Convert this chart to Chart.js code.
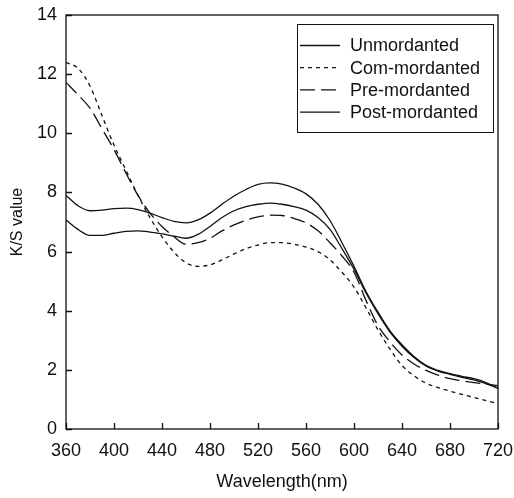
<!DOCTYPE html>
<html>
<head>
<meta charset="utf-8">
<script src="https://cdn.jsdelivr.net/npm/chart.js@4.4.0/dist/chart.umd.min.js"></script>
<style>
    html, body { margin: 0; padding: 0; background: #fff; }
</style>
</head>
<body>
<canvas id="ks-chart" width="514" height="498"></canvas>
<script>
const wavelengths = [360, 370, 380, 390, 400, 410, 420, 430, 440, 450, 460, 470, 480, 490, 500, 510, 520, 530, 540,
    550, 560, 570, 580, 590, 600, 610, 620, 630, 640, 650, 660, 670, 680, 690, 700, 710, 720];

const unmordanted = [7.07, 6.75, 6.55, 6.55, 6.62, 6.68, 6.7, 6.66, 6.6, 6.52, 6.45, 6.58, 6.85, 7.15, 7.38, 7.52, 7.6, 7.64, 7.6,
    7.52, 7.4, 7.15, 6.75, 6.1, 5.4, 4.6, 3.9, 3.28, 2.8, 2.42, 2.13, 1.96, 1.85, 1.75, 1.66, 1.53, 1.38];
const comMordanted = [12.4, 12.2, 11.6, 10.6, 9.6, 8.75, 7.9, 7.15, 6.5, 5.98, 5.62, 5.5, 5.55, 5.72, 5.92, 6.1, 6.22, 6.3, 6.3,
    6.25, 6.15, 6.0, 5.72, 5.3, 4.8, 4.1, 3.35, 2.7, 2.15, 1.8, 1.55, 1.4, 1.28, 1.17, 1.07, 0.96, 0.86];
const preMordanted = [11.72, 11.3, 10.85, 10.15, 9.45, 8.65, 7.9, 7.3, 6.85, 6.5, 6.25, 6.3, 6.45, 6.7, 6.9, 7.06, 7.17, 7.23, 7.22,
    7.12, 6.97, 6.7, 6.3, 5.85, 5.3, 4.35, 3.5, 2.95, 2.5, 2.2, 1.98, 1.82, 1.7, 1.63, 1.57, 1.52, 1.47];
const postMordanted = [7.9, 7.55, 7.38, 7.4, 7.45, 7.47, 7.42, 7.3, 7.15, 7.02, 6.97, 7.07, 7.3, 7.6, 7.88, 8.1, 8.27, 8.32, 8.28,
    8.15, 7.95, 7.6, 7.05, 6.3, 5.5, 4.65, 3.95, 3.32, 2.85, 2.45, 2.15, 1.98, 1.87, 1.78, 1.7, 1.57, 1.38];

const xTickValues = [360, 400, 440, 480, 520, 560, 600, 640, 680, 720];
const yTickValues = [0, 2, 4, 6, 8, 10, 12, 14];

const INK = "#111";
const FONT = { family: "'Liberation Sans', Arial, sans-serif", size: 18 };

function series(label, values, dash) {
    return {
        label: label,
        data: wavelengths.map((w, i) => ({ x: w, y: values[i] })),
        borderColor: INK,
        borderWidth: 1.3,
        borderDash: dash,
        pointRadius: 0,
        cubicInterpolationMode: "monotone",
        fill: false
    };
}

// frame, inward ticks and the boxed legend inside the plot
const framePlugin = {
    id: "frame",
    afterDatasetsDraw(chart) {
        const { ctx, chartArea: a, scales } = chart;
        ctx.save();
        ctx.strokeStyle = INK;
        ctx.lineWidth = 1.3;
        ctx.setLineDash([]);
        ctx.strokeRect(a.left, a.top, a.right - a.left, a.bottom - a.top);

        ctx.beginPath();
        scales.x.ticks.forEach(t => {
            const px = Math.round(scales.x.getPixelForValue(t.value)) + 0.5;
            ctx.moveTo(px, a.bottom);
            ctx.lineTo(px, a.bottom - 6);
        });
        scales.y.ticks.forEach(t => {
            const py = Math.round(scales.y.getPixelForValue(t.value)) + 0.5;
            ctx.moveTo(a.left, py);
            ctx.lineTo(a.left + 6, py);
        });
        ctx.stroke();

        // legend
        const box = { left: 297, top: 24, width: 196, height: 108 };
        ctx.lineWidth = 1;
        ctx.strokeRect(box.left + 0.5, box.top + 0.5, box.width, box.height);
        ctx.font = `${FONT.size}px ${FONT.family}`;
        ctx.fillStyle = INK;
        ctx.textBaseline = "middle";
        chart.data.datasets.forEach((ds, i) => {
            const y = box.top + 21.5 + i * 22.2;
            ctx.beginPath();
            ctx.lineWidth = 1.3;
            ctx.setLineDash(ds.borderDash || []);
            ctx.moveTo(box.left + 3, y);
            ctx.lineTo(box.left + 43, y);
            ctx.stroke();
            ctx.fillText(ds.label, box.left + 53, y + 1);
        });
        ctx.restore();
    }
};

new Chart(document.getElementById("ks-chart").getContext("2d"), {
    type: "line",
    data: {
        datasets: [
            series("Unmordanted", unmordanted, []),
            series("Com-mordanted", comMordanted, [4, 4]),
            series("Pre-mordanted", preMordanted, [15, 6]),
            series("Post-mordanted", postMordanted, [])
        ]
    },
    options: {
        responsive: false,
        animation: false,
        layout: { padding: { top: 15, right: 16, left: 0, bottom: 0 } },
        plugins: {
            legend: { display: false },
            tooltip: { enabled: false }
        },
        scales: {
            x: {
                type: "linear",
                min: 360,
                max: 720,
                afterBuildTicks: s => { s.ticks = xTickValues.map(v => ({ value: v })); },
                afterFit: s => {
                    s.height = 69;
                    s.paddingLeft = 0;
                    s.paddingRight = 0;
                },
                grid: { display: false, drawTicks: false },
                border: { display: false },
                ticks: { font: FONT, color: INK, padding: 11, maxRotation: 0, autoSkip: false },
                title: { display: true, text: "Wavelength(nm)", font: FONT, color: INK, padding: { top: 0, bottom: 5 } }
            },
            y: {
                min: 0,
                max: 14,
                afterBuildTicks: s => { s.ticks = yTickValues.map(v => ({ value: v })); },
                afterFit: s => {
                    s.width = 66;
                    s.paddingTop = 0;
                    s.paddingBottom = 0;
                },
                grid: { display: false, drawTicks: false },
                border: { display: false },
                ticks: { font: FONT, color: INK, padding: 9 },
                title: { display: true, text: "K/S value", font: { family: FONT.family, size: 16 }, color: INK, padding: { top: 8, bottom: 0 } }
            }
        }
    },
    plugins: [framePlugin]
});
</script>
</body>
</html>
